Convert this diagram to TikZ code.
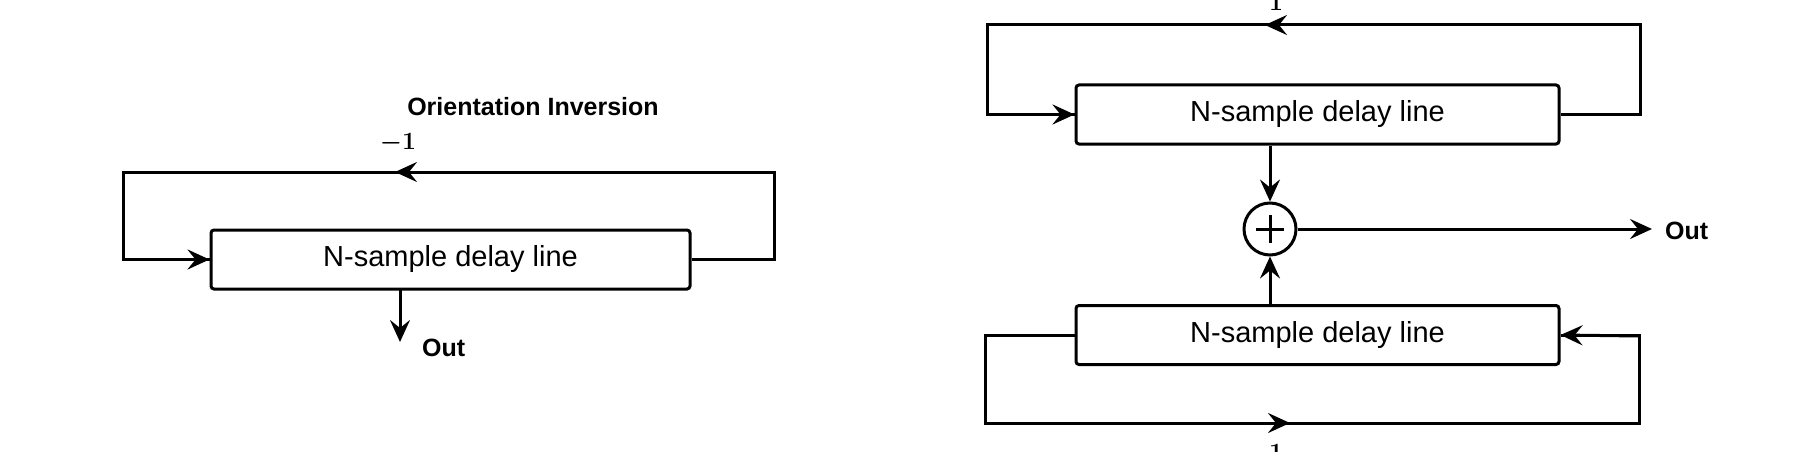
\documentclass[tikz,border=0pt]{standalone}
\usepackage{amsmath}
\usepackage{fontspec}
\setmainfont{Liberation Sans}
\usetikzlibrary{arrows.meta}
\begin{document}
\begin{tikzpicture}[x=1pt,y=-1pt,
  wire/.style={line width=3pt,line join=miter},
  arr/.style={-{Stealth[length=22pt,width=20pt,inset=8pt]}},
  box/.style={draw,line width=3pt,rounded corners=3pt,minimum width=483pt,minimum height=59pt,font=\fontsize{29}{34}\selectfont,inner sep=0pt},
  lbl/.style={font=\bfseries\fontsize{25}{30}\selectfont,inner sep=0pt}]
\useasboundingbox (0,0) rectangle (1800,452);
% left diagram
\node[box,minimum width=479pt] (L) at (450.5,259.5) {N-sample delay line};
\coordinate (Ltl) at (123,172);
\coordinate (Ltr) at (773,172);
\coordinate (Lta) at (395,172);
\draw[wire] (L.east) -- ++(83,0) |- (Ltr) -- (Ltl) |- (L.west);
\draw[wire,arr] (Ltl|-L.west) -- (L.west);
\draw[wire,arr] (460,172) -- (Lta);
\node[font=\fontsize{24}{28}\selectfont\boldmath,inner sep=0pt] (m1) at (398,143) {$\boldsymbol{-1}$};
\node[lbl] (oi) at (533,107) {Orientation Inversion};
\coordinate (Lo) at (400,342);
\draw[wire,arr] (400,289) -- (Lo);
\node[lbl,anchor=west] (Lout) at (422,348) {Out};
% right diagram
\node[box] (A) at (1317.5,114.5) {N-sample delay line};
\node[box] (B) at (1317.5,335) {N-sample delay line};
\node[draw,circle,line width=3pt,minimum size=52pt,inner sep=0pt] (S) at (1270,229) {};
\draw[line width=3pt] (S.center)++(-14,0) -- ++(28,0) (S.center)++(0,-14) -- ++(0,28);
\draw[wire] (A.east) -- ++(80,0) |- (987,25) |- (A.west);
\draw[wire,arr] (987,114.5) -- (A.west);
\draw[wire,arr] (1340,25) -- (1265,25);
\draw[wire] (B.west) -- ++(-89,0) |- (1639,423) |- (B.east);
\draw[wire,arr] (1639,336) -- (B.east);
\draw[wire,arr] (1210,423) -- (1290,423);
\draw[wire,arr] (A.south-|S) -- (S.north);
\draw[wire,arr] (B.north-|S) -- (S.south);
\coordinate (Ro) at (1652,229);
\draw[wire,arr] (S.east) -- (Ro);
\node[lbl,anchor=west] (Rout) at (1665,231) {Out};
\node[font=\fontsize{24}{28}\selectfont\boldmath,inner sep=0pt] (t1) at (1276,2) {$\mathbf{1}$};
\node[font=\fontsize{24}{28}\selectfont\boldmath,inner sep=0pt] (b1) at (1276,452) {$\mathbf{1}$};
\end{tikzpicture}
\end{document}
